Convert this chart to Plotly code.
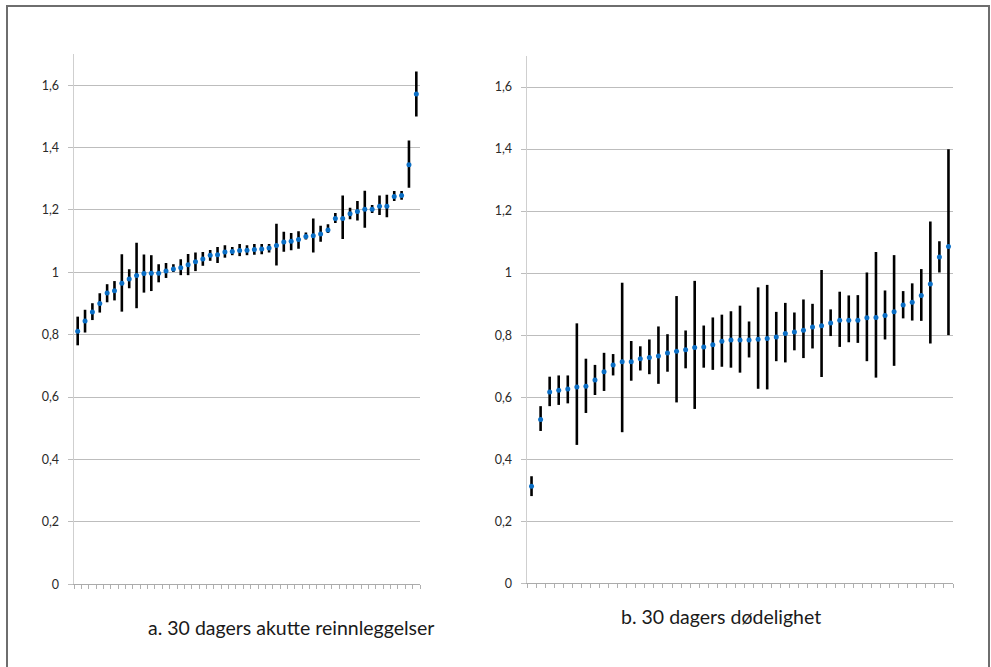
import plotly.graph_objects as go

hospitals = list(range(1, 48))

readm_mid = [0.811,0.844,0.873,0.900,0.934,0.941,0.965,0.979,0.990,0.996,0.997,0.997,1.004,1.011,1.015,1.024,1.034,1.043,1.055,1.056,1.065,1.067,1.070,1.071,1.073,1.075,1.078,1.086,1.097,1.100,1.105,1.115,1.117,1.123,1.136,1.173,1.173,1.188,1.195,1.202,1.202,1.212,1.212,1.243,1.246,1.345,1.572]
readm_lo = [0.766,0.807,0.847,0.871,0.904,0.910,0.874,0.949,0.885,0.935,0.940,0.968,0.982,1.001,0.991,0.991,1.004,1.021,1.037,1.030,1.047,1.055,1.052,1.055,1.056,1.058,1.064,1.022,1.066,1.071,1.076,1.105,1.064,1.098,1.126,1.158,1.107,1.170,1.166,1.143,1.190,1.184,1.177,1.229,1.233,1.271,1.500]
readm_hi = [0.858,0.880,0.901,0.933,0.962,0.972,1.058,1.010,1.095,1.057,1.055,1.026,1.030,1.026,1.042,1.059,1.064,1.065,1.072,1.081,1.087,1.081,1.091,1.087,1.091,1.091,1.091,1.156,1.130,1.126,1.132,1.128,1.173,1.149,1.154,1.190,1.246,1.207,1.229,1.262,1.216,1.246,1.249,1.261,1.261,1.423,1.644]

mort_mid = [0.313,0.528,0.617,0.622,0.626,0.633,0.635,0.655,0.682,0.704,0.714,0.714,0.724,0.728,0.733,0.742,0.748,0.753,0.760,0.762,0.769,0.780,0.784,0.784,0.784,0.787,0.789,0.794,0.805,0.810,0.816,0.826,0.830,0.839,0.848,0.848,0.848,0.856,0.857,0.863,0.875,0.897,0.906,0.928,0.965,1.052,1.086]
mort_lo = [0.281,0.491,0.571,0.575,0.580,0.446,0.549,0.607,0.620,0.670,0.487,0.653,0.686,0.674,0.643,0.682,0.583,0.693,0.562,0.695,0.688,0.698,0.695,0.679,0.728,0.627,0.625,0.716,0.712,0.751,0.726,0.757,0.665,0.797,0.762,0.777,0.775,0.716,0.663,0.786,0.701,0.854,0.847,0.846,0.773,1.002,0.800]
mort_hi = [0.345,0.571,0.666,0.670,0.670,0.838,0.724,0.704,0.743,0.739,0.969,0.781,0.764,0.786,0.828,0.803,0.926,0.815,0.975,0.831,0.857,0.866,0.877,0.895,0.844,0.954,0.962,0.875,0.904,0.873,0.915,0.901,1.010,0.883,0.940,0.928,0.929,1.002,1.068,0.944,1.058,0.942,0.967,1.013,1.166,1.103,1.399]

y_ticks = [0, 0.2, 0.4, 0.6, 0.8, 1.0, 1.2, 1.4, 1.6]
titles = ["a. 30 dagers akutte reinnleggelser", "b. 30 dagers dødelighet"]

W, H = 991, 667
K = 1.011  # vertical correction
BLUE = "#0B6FC6"


def py(p):
    return 1 - p * K / H


def trace(mid, lo, hi, xa, ya):
    return go.Scatter(
        x=hospitals, y=mid, xaxis=xa, yaxis=ya, mode="markers",
        marker=dict(color=BLUE, size=5, symbol="circle"),
        error_y=dict(type="data", symmetric=False,
                     array=[h - m for h, m in zip(hi, mid)],
                     arrayminus=[m - l for m, l in zip(mid, lo)],
                     color="black", thickness=2.6, width=0),
        showlegend=False, hoverinfo="y",
    )


fig = go.Figure()
fig.add_trace(trace(readm_mid, readm_lo, readm_hi, "x", "y"))
fig.add_trace(trace(mort_mid, mort_lo, mort_hi, "x2", "y2"))

xcommon = dict(range=[0.5, 47.5], tickmode="linear", tick0=0.5, dtick=1,
               ticks="outside", ticklen=4, tickcolor="#B0B0B0", tickwidth=1,
               showticklabels=False, showgrid=False, zeroline=False,
               showline=True, linecolor="#ABABAB", linewidth=1, fixedrange=True)
ycommon = dict(range=[0, 1.7], tickmode="array", tickvals=y_ticks,
               ticks="outside", ticklen=5, tickcolor="#BDBDBD", tickwidth=1,
               showgrid=True, gridcolor="#BDBDBD", gridwidth=1, zeroline=False,
               showline=True, linecolor="#CFCFCF", linewidth=1.5,
               tickfont=dict(family="Lato, Carlito, sans-serif", size=12.5, color="#2A2A2A"),
               ticklabelstandoff=6, fixedrange=True)

fig.update_layout(
    width=W, height=H, autosize=False,
    margin=dict(l=0, r=0, t=0, b=0),
    paper_bgcolor="white", plot_bgcolor="white",
    separators=", ",
    font=dict(family="Lato, Carlito, sans-serif", color="#222222"),
    xaxis=dict(domain=[74 / W, 420 / W], anchor="y", **xcommon),
    yaxis=dict(domain=[py(584), py(54)], anchor="x", **ycommon),
    xaxis2=dict(domain=[527 / W, 953 / W], anchor="y2", **xcommon),
    yaxis2=dict(domain=[py(583), py(56)], anchor="x2", **ycommon),
    shapes=[dict(type="rect", xref="paper", yref="paper",
                 x0=7 / W, x1=989 / W, y0=-0.2, y1=py(6),
                 line=dict(color="#6E6E6E", width=2), fillcolor="rgba(0,0,0,0)",
                 layer="above")],
    annotations=[
        dict(text=titles[0], xref="paper", yref="paper", x=291 / W, y=py(627),
             xanchor="center", yanchor="middle", showarrow=False,
             font=dict(size=19.5, color="#1A1A1A")),
        dict(text=titles[1], xref="paper", yref="paper", x=721 / W, y=py(616),
             xanchor="center", yanchor="middle", showarrow=False,
             font=dict(size=19.5, color="#1A1A1A")),
    ],
)

fig.write_html(
    "out.html",
    config={"displayModeBar": False, "responsive": False, "staticPlot": True},
    post_script="document.body.style.margin='0';document.body.style.overflow='hidden';",
)
